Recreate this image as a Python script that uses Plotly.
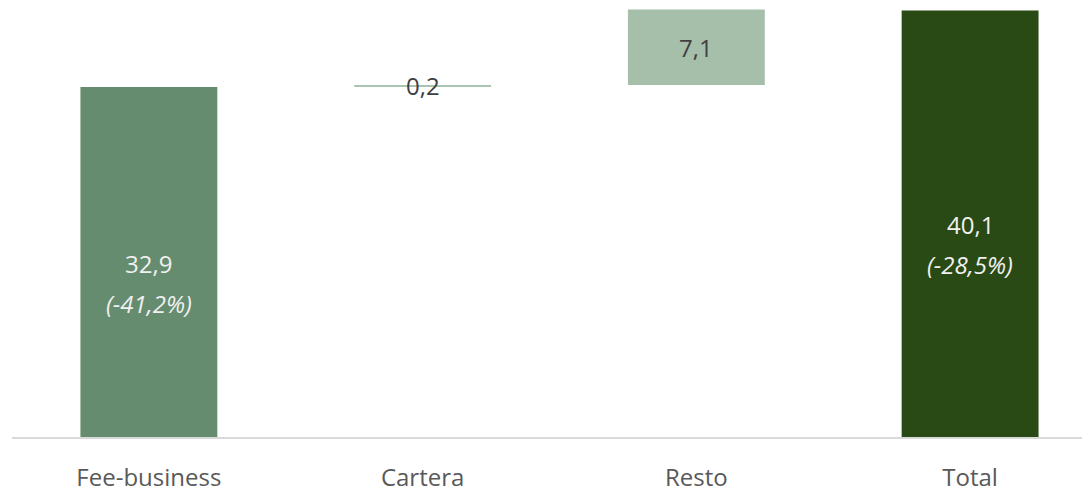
import plotly.graph_objects as go

categories = ["Fee-business", "Cartera", "Resto", "Total"]
values = [32.9, 0.2, 7.1, 40.1]
is_total = [False, False, False, True]
value_labels = ["32,9", "0,2", "7,1", "40,1"]
pct_labels = ["(-41,2%)", "", "", "(-28,5%)"]
colors = ["#658c6e", "#a9c4b0", "#a6bfab", "#2a4a15"]
text_colors = ["#f0f0f0", "#404040", "#404040", "#f0f0f0"]

bases = []
running = 0.0
for v, t in zip(values, is_total):
    if t:
        bases.append(0.0)
    else:
        bases.append(running)
        running += v

fig = go.Figure()
fig.add_trace(go.Bar(
    x=categories, y=values, base=bases,
    marker=dict(color=colors, line=dict(width=0)),
    width=0.5, hoverinfo="skip",
))

font_family = "Open Sans, Noto Sans, sans-serif"
for i, c in enumerate(categories):
    mid = bases[i] + values[i] / 2
    if pct_labels[i]:
        fig.add_annotation(
            x=c, y=mid, text=value_labels[i], showarrow=False, yshift=-1,
            font=dict(family=font_family, size=24, color=text_colors[i]),
        )
        fig.add_annotation(
            x=c, y=mid, text=f"<i>{pct_labels[i]}</i>", showarrow=False, yshift=-41,
            font=dict(family=font_family, size=24, color=text_colors[i]),
        )
    else:
        fig.add_annotation(
            x=c, y=mid, text=value_labels[i], showarrow=False, yshift=0,
            font=dict(family=font_family, size=24, color=text_colors[i]),
        )

# page body adds an 8px offset; size/margins compensate so the plot lands where the reference has it
fig.update_layout(
    width=1082, height=485,
    margin=dict(l=4, r=0, t=0, b=51),
    paper_bgcolor="white", plot_bgcolor="white",
    showlegend=False,
    xaxis=dict(
        range=[-0.5, 3.438], showline=True, linecolor="#d9d9d9", linewidth=2,
        showgrid=False, zeroline=False, ticks="",
        tickfont=dict(family=font_family, size=24, color="#595959"),
        ticklabelstandoff=18,
    ),
    yaxis=dict(range=[0, 40.33], visible=False, showgrid=False, zeroline=False),
)

fig.write_html("out.html")
